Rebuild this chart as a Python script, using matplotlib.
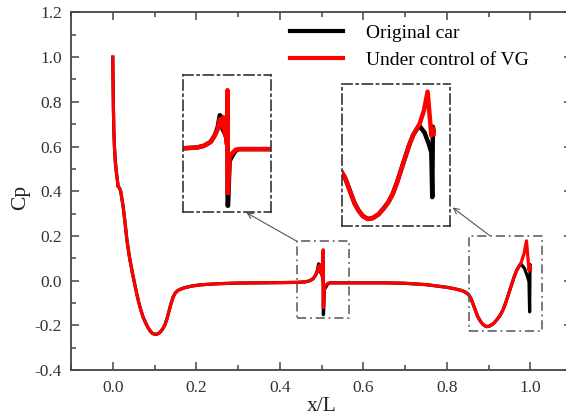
import matplotlib
matplotlib.use("Agg")
import matplotlib.pyplot as plt
from matplotlib.ticker import MultipleLocator
from matplotlib.patches import Rectangle

plt.rcParams['font.family'] = ['Liberation Serif', 'DejaVu Serif']

# ---- data ----
x_front = [0.0, 0.0005, 0.001, 0.0015, 0.0025, 0.004, 0.006, 0.009, 0.013, 0.016,
           0.019, 0.022, 0.025, 0.03, 0.034, 0.04, 0.047, 0.052, 0.057, 0.062,
           0.067, 0.073, 0.079, 0.085, 0.09, 0.095, 0.10, 0.105, 0.11, 0.115,
           0.12, 0.125, 0.13, 0.135, 0.14, 0.145, 0.15, 0.155, 0.16, 0.17,
           0.19, 0.21, 0.25, 0.30, 0.35, 0.40, 0.44, 0.46, 0.47, 0.48, 0.486]
cp_front = [1.0, 0.93, 0.86, 0.78, 0.68, 0.60, 0.535, 0.48, 0.42, 0.415,
            0.40, 0.365, 0.33, 0.25, 0.18, 0.105, 0.035, -0.01, -0.055, -0.095,
            -0.13, -0.165, -0.19, -0.212, -0.226, -0.236, -0.24, -0.24, -0.236, -0.228,
            -0.215, -0.198, -0.17, -0.135, -0.10, -0.072, -0.055, -0.046, -0.04, -0.033,
            -0.024, -0.019, -0.014, -0.011, -0.01, -0.009, -0.008, -0.006, -0.002, 0.008, 0.025]

# region around the VG (x/L ~ 0.5)
x_mid_orig = [0.49, 0.493, 0.495, 0.497, 0.50, 0.502, 0.5035, 0.504, 0.5042, 0.5048, 0.507, 0.51, 0.515, 0.52]
cp_mid_orig = [0.045, 0.075, 0.072, 0.04, 0.03, 0.02, 0.0, 0.13, -0.152, -0.152, -0.04, -0.03, -0.015, -0.01]
x_mid_vg = [0.49, 0.493, 0.495, 0.497, 0.498, 0.50, 0.502, 0.5035, 0.504, 0.5042, 0.5048, 0.507, 0.51, 0.515, 0.52]
cp_mid_vg = [0.04, 0.065, 0.062, 0.045, 0.07, 0.03, 0.02, 0.0, 0.138, -0.12, -0.12, -0.03, -0.022, -0.012, -0.01]

x_rear = [0.55, 0.60, 0.65, 0.70, 0.75, 0.78, 0.80, 0.82, 0.835, 0.845, 0.852, 0.858,
          0.863, 0.868, 0.874, 0.88, 0.887, 0.895, 0.903, 0.912, 0.92, 0.928,
          0.935, 0.942, 0.948, 0.955, 0.962, 0.968]
cp_rear = [-0.01, -0.01, -0.01, -0.012, -0.018, -0.025, -0.03, -0.037, -0.044, -0.052, -0.062, -0.08,
           -0.105, -0.13, -0.16, -0.18, -0.197, -0.206, -0.203, -0.192, -0.175, -0.155,
           -0.13, -0.095, -0.06, -0.02, 0.02, 0.048]

# trailing edge
x_end_orig = [0.974, 0.979, 0.986, 0.993, 0.997, 0.9985, 0.9995, 1.0005]
cp_end_orig = [0.066, 0.072, 0.055, 0.02, -0.005, -0.14, 0.072, 0.06]
x_end_vg = [0.974, 0.978, 0.985, 0.991, 0.997, 0.9995, 1.0005]
cp_end_vg = [0.068, 0.08, 0.12, 0.178, 0.046, 0.068, 0.05]

x_orig = x_front + x_mid_orig + x_rear + x_end_orig
cp_orig = cp_front + cp_mid_orig + cp_rear + cp_end_orig
x_vg = x_front + x_mid_vg + x_rear + x_end_vg
cp_vg = cp_front + cp_mid_vg + cp_rear + cp_end_vg

labels = ["Original car", "Under control of VG"]
colors = ["#000000", "#ff0000"]
x_ticks = [0.0, 0.2, 0.4, 0.6, 0.8, 1.0]
y_ticks = [-0.4, -0.2, 0.0, 0.2, 0.4, 0.6, 0.8, 1.0, 1.2]

box1 = (0.441, 0.566, -0.167, 0.176)
box2 = (0.853, 1.027, -0.227, 0.201)

W, H = 566, 419
fig = plt.figure(figsize=(W / 100, H / 100), dpi=100)
ax = fig.add_axes([71 / W, 1 - 370 / H, (572 - 71) / W, 357.6 / H])

ax.plot(x_orig, cp_orig, color=colors[0], lw=2.3, label=labels[0], solid_joinstyle='round')
ax.plot(x_vg, cp_vg, color=colors[1], lw=2.3, label=labels[1], solid_joinstyle='round')

ax.set_xlim(-0.1, 1.1)
ax.set_ylim(-0.4, 1.2)
ax.set_xticks(x_ticks)
ax.set_xticklabels([f"{v:.1f}" for v in x_ticks])
ax.set_yticks(y_ticks)
ax.set_yticklabels([f"{v:.1f}" for v in y_ticks])
ax.xaxis.set_minor_locator(MultipleLocator(0.1))
ax.yaxis.set_minor_locator(MultipleLocator(0.1))
spc = "#444444"
ax.tick_params(which='both', direction='in', top=True, right=True, color=spc, width=1.1)
ax.tick_params(which='major', length=6, labelsize=12.5, labelcolor="#333333")
ax.tick_params(which='minor', length=3.5)
ax.tick_params(axis='y', pad=6.5)
ax.tick_params(axis='x', pad=7)
for s in ax.spines.values():
    s.set_color(spc)
    s.set_linewidth(1.3)

fig.text(321.7 / W, 1 - 406.5 / H, "x/L", fontsize=15.5, ha='center', va='center', color="#222222")
fig.text(21 / W, 1 - 197 / H, "Cp", fontsize=15.5, ha='center', va='center', rotation=90, color="#222222")

leg = ax.legend(loc='upper left', bbox_to_anchor=(290 / W, 1 - 24 / H), bbox_transform=fig.transFigure,
                frameon=False, fontsize=14, handlelength=2.7, handletextpad=1.2,
                labelspacing=0.5, borderpad=0, borderaxespad=0)
for line in leg.get_lines():
    line.set_linewidth(3)

dashdot = (0, (6, 2.5, 1.2, 2.5))

# small dash-dot boxes in the main axes
for (x0, x1, y0, y1) in (box1, box2):
    ax.add_patch(Rectangle((x0, y0), x1 - x0, y1 - y0, fill=False, ls=dashdot,
                           lw=1.1, edgecolor="#555555", zorder=3))

# insets
def make_inset(rect, box):
    ia = fig.add_axes(rect)
    ia.plot(x_orig, cp_orig, color=colors[0], lw=3.2, solid_joinstyle='round')
    ia.plot(x_vg, cp_vg, color=colors[1], lw=3.2, solid_joinstyle='round')
    ia.set_xlim(box[0], box[1])
    ia.set_ylim(box[2], box[3])
    ia.set_xticks([])
    ia.set_yticks([])
    ia.patch.set_alpha(0)
    for s in ia.spines.values():
        s.set_linestyle(dashdot)
        s.set_linewidth(1.2)
        s.set_color("#333333")
    return ia

make_inset([183.3 / W, 1 - 211.7 / H, (271 - 183.3) / W, (211.7 - 75) / H], box1)
make_inset([341.7 / W, 1 - 226 / H, (450 - 341.7) / W, (226 - 84) / H], box2)

# arrows
aprops = dict(arrowstyle='->', color="#555555", lw=0.8, shrinkA=0, shrinkB=0)
ax.annotate("", xy=(0.320, 0.304), xytext=(0.441, 0.176), arrowprops=aprops)
ax.annotate("", xy=(0.814, 0.327), xytext=(0.903, 0.201), arrowprops=aprops)

fig.savefig("out.png", dpi=100)
